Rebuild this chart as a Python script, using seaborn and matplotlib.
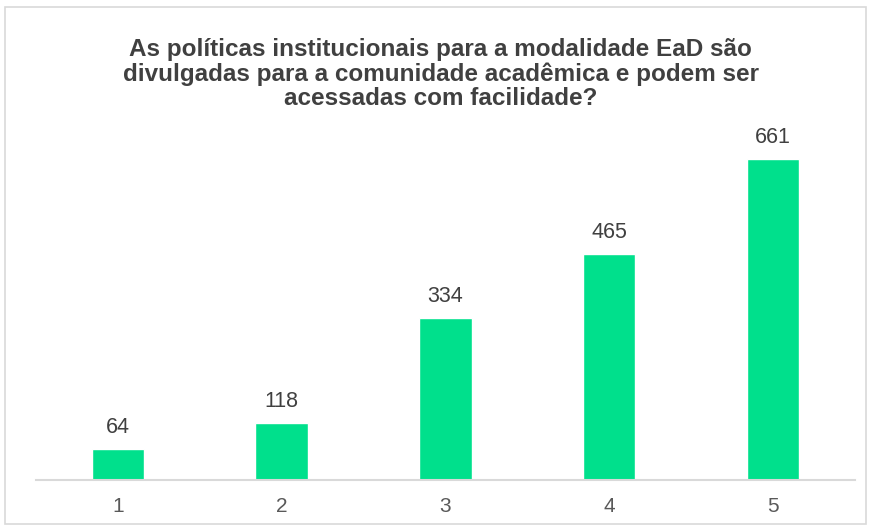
import pandas as pd
import matplotlib.pyplot as plt
import seaborn as sns
from matplotlib.patches import Rectangle

# survey answers (scale 1-5) and number of responses
categorias = ['1', '2', '3', '4', '5']
respostas = [64, 118, 334, 465, 661]

titulo = ('As políticas institucionais para a modalidade EaD são\n'
          'divulgadas para a comunidade acadêmica e podem ser\n'
          'acessadas com facilidade?')

df = pd.DataFrame({'categoria': categorias, 'respostas': respostas})

sns.set_theme(style='white')
plt.rcParams['font.family'] = ['Liberation Sans', 'DejaVu Sans']

fig = plt.figure(figsize=(8.71, 5.26), dpi=100)
ax = fig.add_axes([0.0413, 0.0875, 0.9403, 0.7375])

sns.barplot(
    x='categoria',
    y='respostas',
    data=df,
    color='#00E08C',
    saturation=1,
    width=0.32,
    ax=ax
)

for container in ax.containers:
    ax.bar_label(container, padding=8, fontsize=15.5, color='#404040')

ax.set_ylim(0, 800)
ax.set_xlim(-0.5, 4.5)
ax.set_xlabel('')
ax.set_ylabel('')
ax.set_yticks([])
ax.tick_params(axis='x', length=0, pad=12, labelsize=15, labelcolor='#595959')
sns.despine(ax=ax, left=True)
ax.spines['bottom'].set_color('#D9D9D9')
ax.spines['bottom'].set_linewidth(1.5)

fig.text(0.506, 0.859, titulo, ha='center', va='center', fontsize=17.5,
         fontweight='bold', color='#404040', linespacing=1.07)

# light frame around the chart area
fig.patches.append(Rectangle((0.006, 0.004), 0.988, 0.982, transform=fig.transFigure,
                             fill=False, edgecolor='#D9D9D9', linewidth=1.2))

plt.savefig('out.png', dpi=100)
plt.close()
